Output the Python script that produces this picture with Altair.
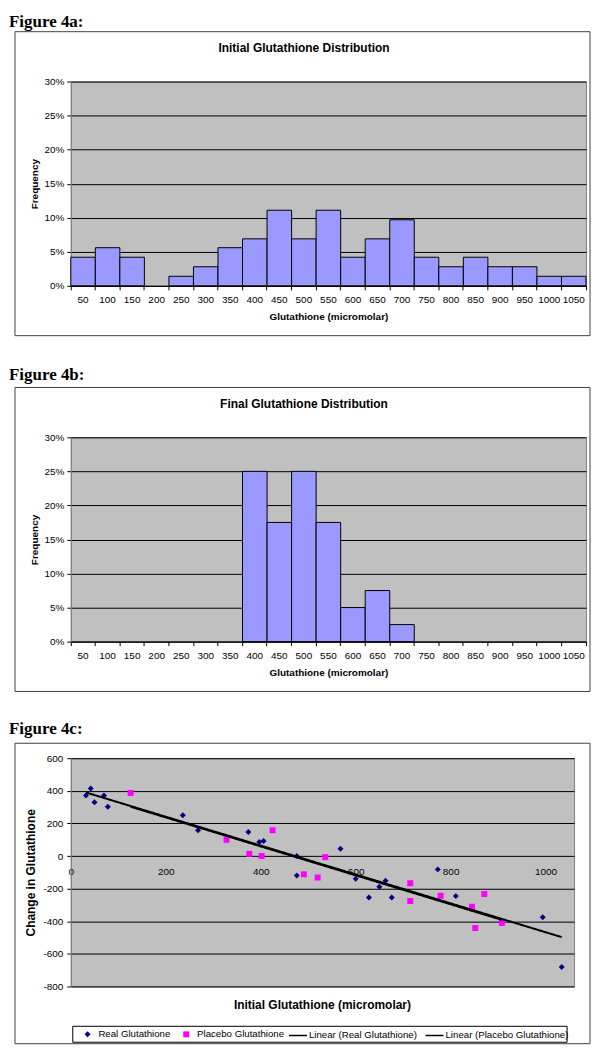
import altair as alt
import pandas as pd

# ---------------- data ----------------
bins = ["50", "100", "150", "200", "250", "300", "350", "400", "450", "500", "550",
        "600", "650", "700", "750", "800", "850", "900", "950", "1000", "1050"]
initial_pct = [4.2, 5.6, 4.2, 0, 1.4, 2.8, 5.6, 6.9, 11.1, 6.9, 11.1,
               4.2, 6.9, 9.7, 4.2, 2.8, 4.2, 2.8, 2.8, 1.4, 1.4]
final_pct = [0, 0, 0, 0, 0, 0, 0, 25, 17.5, 25, 17.5,
             5, 7.5, 2.5, 0, 0, 0, 0, 0, 0, 0]

real_x = [32, 42, 50, 70, 78, 236, 268, 374, 397, 406, 476, 476, 568, 600,
          628, 650, 663, 676, 773, 811, 994, 1034]
real_y = [371, 414, 330, 371, 302, 250, 158, 148, 86, 92, 0, -120, 45, -139,
          -254, -189, -152, -254, -82, -246, -375, -681]
placebo_x = [126, 328, 376, 402, 425, 491, 520, 536, 715, 715, 779, 845, 852, 871, 908]
placebo_y = [387, 99, 13, 0, 158, -112, -132, -7, -167, -276, -244, -311, -442, -233, -411]

point_series = ["Real Glutathione", "Placebo Glutathione"]
trend_series = ["Linear (Real Glutathione)", "Linear (Placebo Glutathione)"]
y_ticks_pct = [0, 5, 10, 15, 20, 25, 30]
x_ticks_c = [0, 200, 400, 600, 800, 1000]
y_ticks_c = [-800, -600, -400, -200, 0, 200, 400, 600]

SANS = "Liberation Sans"
SERIF = "Liberation Serif"
one = pd.DataFrame({"k": [0]})

# ---------------- histogram panels ----------------
WH, HH = 517, 205


def deco(x1, x2, y1, y2, **kw):
    return alt.Chart(one).mark_rect(fillOpacity=0, **kw).encode(
        x=alt.value(x1), x2=alt.value(x2), y=alt.value(y1), y2=alt.value(y2))


def label_text(txt, x, y, font, size, align="left"):
    return alt.Chart(one).mark_text(font=font, fontSize=size, fontWeight="bold",
                                    align=align, baseline="alphabetic", color="black").encode(
        text=alt.value(txt), x=alt.value(x), y=alt.value(y))


def hist_panel(pcts, title, figlabel, label_y, canvas_top, canvas_bottom):
    df = pd.DataFrame({"bin": bins, "pct": pcts})
    bars = alt.Chart(df).transform_filter("datum.pct > 0").mark_bar(
        fill="#9999FF", stroke="black", strokeWidth=1, opacity=1).encode(
        x=alt.X("bin:O", sort=bins,
                scale=alt.Scale(domain=bins, paddingInner=0, paddingOuter=0),
                axis=alt.Axis(title="Glutathione (micromolar)", labelAngle=0,
                              bandPosition=1, tickExtra=True, labelOverlap=False,
                              tickSize=4, labelPadding=5, titlePadding=7,
                              titleFontSize=10, titleFontWeight="bold",
                              domainColor="black", grid=False)),
        y=alt.Y("pct:Q", scale=alt.Scale(domain=[0, 30], nice=False),
                axis=alt.Axis(values=y_ticks_pct, tickCount=len(y_ticks_pct),
                              labelExpr="datum.value + '%'",
                              title="Frequency", titleFontSize=10, titleFontWeight="bold",
                              tickSize=4, labelPadding=3, titlePadding=4, labelOverlap=False,
                              domainColor="#808080", gridColor="black")),
    )
    canvas = deco(-62, 522, canvas_top, canvas_bottom, strokeOpacity=0)
    frame = deco(-56, 521, -50, 255, stroke="#404040", strokeWidth=1)
    t = label_text(title, 234, -29.7, SANS, 12, align="center")
    f = label_text(figlabel, -62, label_y, SERIF, 17)
    return alt.layer(canvas, frame, bars, t, f).properties(width=WH, height=HH)


panel_a = hist_panel(initial_pct, "Initial Glutathione Distribution", "Figure 4a:", -55, -71, 281)
panel_b = hist_panel(final_pct, "Final Glutathione Distribution", "Figure 4b:", -58, -74, 280)

# ---------------- scatter panel ----------------
WC, HC = 505, 229
df_pts = pd.DataFrame({
    "gsh": real_x + placebo_x,
    "change": real_y + placebo_y,
    "series": ["Real Glutathione"] * len(real_x) + ["Placebo Glutathione"] * len(placebo_x),
})

color_scale = alt.Scale(domain=point_series, range=["#000080", "#FF00FF"])
shape_scale = alt.Scale(domain=point_series, range=["diamond", "square"])

legend_pts = alt.Legend(
    title=None, orient="none", legendX=12, legendY=272, direction="horizontal", columns=2,
    padding=0, labelFont=SANS, labelFontSize=9.7, labelColor="black", labelOffset=6,
    columnPadding=11, symbolSize=36, symbolStrokeWidth=0,
)
legend_lines = alt.Legend(
    title=None, orient="none", legendX=218, legendY=268, direction="horizontal", columns=2,
    padding=0, labelFont=SANS, labelFontSize=9.7, labelColor="black", labelOffset=1,
    columnPadding=5, symbolSize=324, symbolStrokeWidth=1.5, symbolType="stroke",
    symbolStrokeColor="black",
)

xc = alt.X("gsh:Q", scale=alt.Scale(domain=[0, 1060], nice=False),
           axis=alt.Axis(values=x_ticks_c, tickCount=len(x_ticks_c), format="d", title=None,
                         grid=False, ticks=False, domain=False,
                         offset=-(HC - HC * 600 / 1400), labelFlush=False,
                         labelPadding=11, labelFontSize=10, labelOverlap=False))
yc = alt.Y("change:Q", scale=alt.Scale(domain=[-800, 600], nice=False),
           axis=alt.Axis(values=y_ticks_c, tickCount=len(y_ticks_c),
                         labelExpr="'' + datum.value", labelOverlap=False,
                         title="Change in Glutathione", titleFontSize=12, titleFontWeight="bold",
                         tickSize=4, labelPadding=4, titlePadding=5, domainColor="#808080",
                         gridColor="black"))

pts = alt.Chart(df_pts).mark_point(filled=True, size=36, opacity=1).encode(
    x=xc, y=yc,
    color=alt.Color("series:N", scale=color_scale, legend=legend_pts),
    shape=alt.Shape("series:N", scale=shape_scale, legend=legend_pts),
)
lines = alt.Chart(df_pts).transform_regression(
    "gsh", "change", groupby=["series"]
).transform_calculate(
    trend="'Linear (' + datum.series + ')'"
).mark_line(strokeWidth=2, color="black").encode(
    x="gsh:Q", y="change:Q",
    strokeDash=alt.StrokeDash("trend:N", scale=alt.Scale(domain=trend_series, range=[[1, 0], [1, 0]]),
                              legend=legend_lines),
)

canvas_c = deco(-62, 522, -40, 287, strokeOpacity=0)
frame_c = deco(-56, 521, -15, 286.5, stroke="#404040", strokeWidth=1)
legend_box = deco(2, 498, 269, 285, stroke="black", strokeWidth=1)
xtitle_c = label_text("Initial Glutathione (micromolar)", WC / 2, 252, SANS, 12, align="center")
fig_c = label_text("Figure 4c:", -62, -24, SERIF, 17)

panel_c = alt.layer(canvas_c, frame_c, legend_box, pts, lines, xtitle_c, fig_c).properties(
    width=WC, height=HC)

chart = alt.vconcat(panel_a, panel_b, panel_c, spacing=0).properties(
    padding=0
).resolve_scale(
    color="independent", shape="independent", strokeDash="independent"
).resolve_legend(
    color="independent", shape="independent", strokeDash="independent"
).configure(
    font=SANS
).configure_view(
    fill="#C0C0C0", stroke="#808080", strokeWidth=1
).configure_axis(
    labelFont=SANS, titleFont=SANS, labelColor="black", titleColor="black",
    tickColor="black", labelFontSize=10, gridWidth=1
)

chart.save("out.html", embed_options={"renderer": "svg", "actions": False})
